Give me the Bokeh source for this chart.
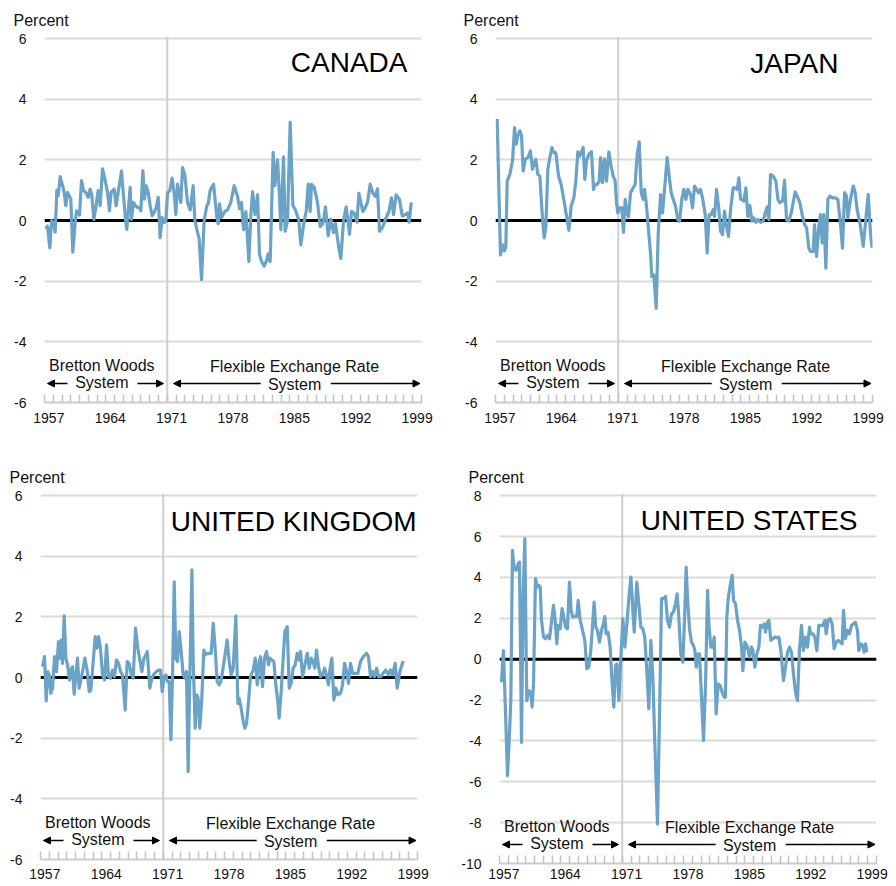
from bokeh.plotting import figure
from bokeh.layouts import column, row
from bokeh.models import Range1d, FixedTicker, Label, Arrow, NormalHead, Span
from bokeh.embed import file_html
from bokeh.resources import INLINE

FONT = "Liberation Sans"
LINE_COLOR = "#6aa3c6"
GRID_COLOR = "#dedad6"
AXIS_COLOR = "#cccccc"

YEAR_START, YEAR_END = 1957, 2000
REGIME_CHANGE = 1971
TICK_YEARS = [1957, 1964, 1971, 1978, 1985, 1992, 1999]

canada_years = [1957.15, 1957.34, 1957.61, 1957.80, 1958.03, 1958.22, 1958.41, 1958.56, 1958.79, 1959.05, 1959.24, 1959.43, 1959.62, 1959.81, 1960.00, 1960.23, 1960.46, 1960.65, 1960.84, 1960.99, 1961.22, 1961.45, 1961.71, 1961.98, 1962.21, 1962.40, 1962.63, 1962.86, 1963.12, 1963.35, 1963.62, 1963.88, 1964.19, 1964.41, 1964.60, 1964.95, 1965.17, 1965.40, 1965.78, 1966.01, 1966.24, 1966.39, 1966.77, 1966.92, 1967.15, 1967.38, 1967.61, 1967.84, 1967.99, 1968.22, 1968.41, 1968.60, 1968.83, 1969.05, 1969.28, 1969.59, 1969.74, 1969.97, 1970.19, 1970.42, 1970.65, 1970.84,
                1971.03, 1971.30, 1971.56, 1971.79, 1971.98, 1972.17, 1972.55, 1972.74, 1973.01, 1973.31, 1973.62, 1973.96, 1974.15, 1974.38, 1974.64, 1974.91, 1975.21, 1975.52, 1975.67, 1975.90, 1976.28, 1976.66, 1976.81, 1976.96, 1977.19, 1977.57, 1977.87, 1978.25, 1978.63, 1979.02, 1979.24, 1979.47, 1979.70, 1979.97, 1980.31, 1980.54, 1980.73, 1981.00, 1981.30, 1981.52, 1981.75, 1982.06, 1982.36, 1982.51, 1982.74, 1983.08, 1983.27, 1983.58, 1983.77, 1983.96, 1984.26, 1984.45, 1984.72, 1985.02, 1985.33, 1985.63, 1986.01, 1986.24, 1986.62, 1986.85, 1987.08, 1987.30, 1987.46, 1987.76, 1988.14, 1988.44, 1988.75, 1989.05, 1989.36, 1989.66, 1989.97, 1990.19, 1990.57, 1990.80, 1991.11, 1991.41, 1991.79, 1992.02, 1992.32, 1992.63, 1992.86, 1993.08, 1993.31, 1993.54, 1993.84, 1994.15, 1994.45, 1994.76, 1994.98, 1995.21, 1995.59, 1995.97, 1996.28, 1996.58, 1996.81, 1997.11, 1997.49, 1997.80, 1998.18, 1998.41, 1998.60, 1998.83]
canada_values = [-0.28, -0.18, -0.90, 0.00, -0.07, -0.38, 1.00, 0.82, 1.45, 1.18, 0.93, 0.49, 0.93, 0.82, 0.71, -1.04, -0.18, 0.32, 0.27, 0.18, 1.32, 0.99, 0.93, 0.77, 1.04, 0.82, 0.04, 0.43, 0.99, 0.49, 1.71, 1.38, 0.93, 0.32, 0.93, 1.04, 0.49, 0.93, 1.63, 0.82, 0.04, -0.29, 1.10, 0.04, 0.60, 0.49, 0.43, 0.43, 0.32, 1.65, 0.71, 1.15, 0.93, 0.49, 0.16, 0.32, 0.43, 0.77, -0.56, 0.10, -0.07, -0.01,
                 0.90, 1.00, 1.40, 0.90, 0.20, 1.20, 0.60, 1.75, 1.50, 0.60, 0.35, 1.15, 0.00, -0.30, -0.60, -1.95, 0.00, 0.50, 0.55, 1.00, 1.20, 0.10, -0.10, 0.55, 0.10, 0.30, 0.35, 0.60, 1.15, 0.80, 0.40, 0.60, -0.30, 0.30, -1.35, 0.20, 0.95, 0.20, 0.85, -1.10, -1.35, -1.50, -1.30, -1.10, -1.35, 2.25, 1.15, 2.00, 1.00, -0.30, 2.10, -0.35, 0.00, 3.25, 0.50, 0.35, 0.00, -0.80, 0.00, 0.30, 1.20, 0.30, 1.20, 1.10, 0.60, -0.20, -0.10, 0.45, -0.50, 0.05, -0.40, -0.10, -0.90, -1.25, 0.00, 0.45, -0.45, 0.30, 0.25, -0.05, 0.90, 0.60, 0.30, 0.40, 0.60, 1.20, 0.90, 0.80, 1.05, -0.35, -0.20, 0.10, 0.30, 0.75, 0.20, 0.85, 0.70, 0.15, 0.20, 0.25, -0.05, 0.60]

japan_years = [1957.19, 1957.57, 1957.80, 1958.03, 1958.18, 1958.33, 1958.63, 1958.94, 1959.17, 1959.36, 1959.55, 1959.78, 1959.97, 1960.16, 1960.38, 1960.69, 1960.99, 1961.22, 1961.37, 1961.60, 1961.83, 1962.06, 1962.32, 1962.55, 1962.74, 1962.97, 1963.20, 1963.43, 1963.65, 1963.88, 1964.19, 1964.49, 1964.79, 1965.10, 1965.37, 1965.63, 1965.94, 1966.16, 1966.39, 1966.62, 1966.77, 1967.00, 1967.19, 1967.38, 1967.65, 1967.95, 1968.18, 1968.37, 1968.60, 1968.83, 1968.98, 1969.21, 1969.43, 1969.66, 1969.93, 1970.19, 1970.42, 1970.65, 1970.80, 1970.95,
               1971.18, 1971.41, 1971.60, 1971.79, 1972.02, 1972.17, 1972.40, 1972.70, 1972.93, 1973.16, 1973.39, 1973.62, 1973.84, 1974.00, 1974.22, 1974.45, 1974.68, 1974.83, 1975.06, 1975.33, 1975.56, 1975.83, 1976.05, 1976.28, 1976.58, 1976.81, 1977.04, 1977.27, 1977.53, 1977.80, 1977.99, 1978.25, 1978.48, 1978.71, 1978.94, 1979.24, 1979.47, 1979.70, 1979.93, 1980.16, 1980.38, 1980.61, 1980.92, 1981.14, 1981.37, 1981.60, 1981.83, 1981.98, 1982.21, 1982.44, 1982.67, 1982.89, 1983.12, 1983.35, 1983.58, 1983.81, 1984.11, 1984.34, 1984.57, 1984.76, 1984.95, 1985.17, 1985.33, 1985.56, 1985.78, 1986.01, 1986.24, 1986.47, 1986.70, 1986.92, 1987.23, 1987.53, 1987.76, 1987.99, 1988.18, 1988.37, 1988.67, 1988.98, 1989.21, 1989.43, 1989.74, 1989.97, 1990.19, 1990.46, 1990.73, 1990.95, 1991.18, 1991.41, 1991.71, 1991.98, 1992.25, 1992.48, 1992.74, 1992.93, 1993.24, 1993.39, 1993.62, 1993.88, 1994.07, 1994.26, 1994.45, 1994.68, 1994.91, 1995.14, 1995.44, 1995.75, 1996.05, 1996.35, 1996.58, 1996.81, 1997.04, 1997.19, 1997.49, 1997.80, 1998.03, 1998.25, 1998.63, 1998.94, 1999.24, 1999.51, 1999.78, 1999.97]
japan_values = [3.35, -1.13, -0.80, -1.00, -0.85, 1.30, 1.52, 1.97, 3.07, 2.52, 2.80, 2.96, 2.80, 1.64, 2.02, 2.08, 2.30, 1.69, 1.86, 2.02, 1.52, 1.47, 0.25, -0.57, -0.24, 1.69, 2.08, 2.41, 2.24, 2.24, 1.47, 1.19, 0.70, 0.14, -0.32, 0.48, 0.75, 1.30, 2.27, 2.13, 2.24, 2.41, 1.36, 1.97, 2.19, 2.27, 1.03, 1.19, 1.19, 1.30, 2.08, 1.25, 2.04, 1.30, 2.27, 1.80, 1.47, 1.30, 0.59, 0.25,
                0.42, 0.42, -0.39, 0.70, 0.25, 0.12, 0.92, 1.08, 1.19, 2.19, 2.60, 0.92, 0.70, 1.03, 0.50, -0.30, -1.07, -1.85, -1.79, -2.90, -0.41, 0.86, 0.25, 1.03, 2.08, 1.47, 0.92, 0.70, 0.48, 0.03, -0.02, 0.70, 1.03, 0.70, 1.03, 0.86, 0.42, 1.14, 1.03, 0.92, 1.03, 0.75, 0.20, -1.07, 0.20, 0.20, 0.36, 0.14, 1.03, 0.48, -0.35, -0.46, 0.31, -0.19, -0.52, 0.36, 1.08, 1.08, 1.03, 1.41, 0.70, 0.70, 0.64, 1.08, 0.14, 0.50, -0.02, 0.09, -0.06, 0.03, -0.06, -0.02, 0.25, 0.45, 0.03, 1.52, 1.47, 1.30, 0.70, 0.59, 0.64, 1.33, 0.03, -0.02, 0.25, 0.59, 0.94, 0.81, 0.59, 0.20, -0.13, -0.24, -0.91, -1.02, -1.02, -0.13, -1.18, -0.19, 0.20, -0.74, 0.20, -1.57, 0.70, 0.81, 0.75, 0.75, 0.70, -0.13, -0.91, 0.92, 0.81, 0.09, 0.70, 1.14, 0.92, 0.36, -0.19, -0.85, 0.03, 0.86, -0.46, -0.91]

uk_years = [1957.23, 1957.46, 1957.65, 1957.84, 1957.99, 1958.18, 1958.37, 1958.60, 1958.83, 1959.05, 1959.21, 1959.36, 1959.51, 1959.70, 1959.89, 1960.12, 1960.31, 1960.50, 1960.65, 1960.84, 1961.03, 1961.22, 1961.41, 1961.64, 1961.87, 1962.06, 1962.32, 1962.55, 1962.74, 1963.01, 1963.24, 1963.43, 1963.62, 1963.84, 1964.07, 1964.30, 1964.53, 1964.76, 1964.98, 1965.21, 1965.44, 1965.67, 1965.90, 1966.13, 1966.35, 1966.66, 1966.89, 1967.11, 1967.34, 1967.57, 1967.84, 1968.10, 1968.33, 1968.56, 1968.79, 1968.94, 1969.17, 1969.47, 1969.70, 1969.93, 1970.23, 1970.46, 1970.69, 1970.88,
            1971.11, 1971.30, 1971.49, 1971.68, 1971.87, 1972.06, 1972.25, 1972.44, 1972.63, 1972.82, 1973.05, 1973.27, 1973.50, 1973.65, 1973.84, 1974.03, 1974.27, 1974.41, 1974.64, 1974.83, 1974.98, 1975.17, 1975.40, 1975.63, 1975.78, 1976.01, 1976.24, 1976.47, 1976.70, 1976.92, 1977.15, 1977.38, 1977.57, 1977.76, 1977.99, 1978.29, 1978.52, 1978.75, 1978.98, 1979.28, 1979.51, 1979.66, 1979.89, 1980.12, 1980.31, 1980.50, 1980.73, 1980.95, 1981.26, 1981.49, 1981.72, 1981.94, 1982.10, 1982.32, 1982.55, 1982.78, 1983.01, 1983.16, 1983.39, 1983.62, 1983.84, 1984.07, 1984.22, 1984.45, 1984.68, 1984.87, 1985.14, 1985.37, 1985.59, 1985.82, 1986.05, 1986.28, 1986.51, 1986.66, 1986.89, 1987.11, 1987.42, 1987.65, 1987.87, 1988.10, 1988.29, 1988.48, 1988.71, 1988.94, 1989.17, 1989.40, 1989.62, 1989.85, 1990.00, 1990.23, 1990.46, 1990.69, 1990.92, 1991.22, 1991.45, 1991.68, 1991.90, 1992.13, 1992.36, 1992.59, 1992.89, 1993.20, 1993.50, 1993.81, 1994.19, 1994.41, 1994.64, 1994.87, 1995.10, 1995.33, 1995.56, 1995.78, 1996.09, 1996.39, 1996.66, 1996.92, 1997.15, 1997.46, 1997.68, 1997.99, 1998.37]
uk_values = [0.36, 0.69, -0.77, 0.20, 0.09, -0.52, -0.35, 0.69, 0.20, 1.19, 0.64, 1.24, 0.47, 2.04, 0.64, 0.36, -0.08, 0.25, 0.36, -0.55, 0.09, 0.64, -0.35, -0.02, 0.31, 0.64, 0.25, -0.46, -0.41, 0.53, 1.35, 0.97, 1.35, 0.97, 0.09, -0.08, 1.08, 0.03, -0.02, 0.25, 0.03, 0.58, 0.47, 0.20, 0.09, -1.07, 0.53, 0.47, 0.14, -0.02, 1.63, 0.97, 0.58, 0.20, 0.64, 0.69, 0.86, -0.35, -0.02, 0.11, 0.20, 0.25, 0.25, -0.46,
             0.03, 0.09, -0.13, -0.13, -2.05, 0.03, 3.16, 0.64, 0.53, 1.52, 0.86, 0.09, -0.02, 0.20, -3.10, -0.02, 3.55, 0.64, -1.67, -0.57, -0.68, -1.67, -0.68, 0.91, 0.75, 0.80, 0.80, 0.80, 1.79, 0.97, -0.13, -0.24, -0.13, 0.20, 0.64, 1.24, 0.53, 0.09, 0.31, 2.04, -0.85, -0.68, -1.01, -1.45, -1.67, -1.51, -0.79, 0.03, 0.25, 0.64, -0.24, 0.53, 0.69, -0.30, 0.64, 0.86, 0.42, 0.64, 0.58, 0.53, -0.24, -0.79, -1.34, -0.46, 0.64, 1.52, 1.68, -0.35, -0.19, 0.31, 0.42, 0.80, 0.58, 0.86, 0.03, 0.36, 0.80, 0.31, 0.64, 0.53, 0.31, 0.91, 0.36, 0.03, 0.09, 0.31, 0.09, -0.24, 0.25, 0.64, -0.74, -0.35, -0.57, -0.52, -0.24, 0.47, 0.20, -0.19, 0.47, 0.14, 0.14, 0.14, 0.53, 0.69, 0.80, 0.69, 0.03, 0.20, 0.03, 0.31, 0.03, 0.03, 0.14, 0.25, 0.09, 0.25, 0.09, 0.47, -0.35, 0.20, 0.55]

us_years = [1957.22, 1957.45, 1957.68, 1957.91, 1958.14, 1958.29, 1958.48, 1958.67, 1958.90, 1959.13, 1959.28, 1959.51, 1959.70, 1959.89, 1960.11, 1960.34, 1960.57, 1960.72, 1960.88, 1961.10, 1961.33, 1961.48, 1961.64, 1961.79, 1962.02, 1962.24, 1962.47, 1962.70, 1962.93, 1963.16, 1963.35, 1963.54, 1963.69, 1963.92, 1964.14, 1964.33, 1964.52, 1964.75, 1964.98, 1965.17, 1965.36, 1965.59, 1965.82, 1965.97, 1966.20, 1966.43, 1966.73, 1966.96, 1967.19, 1967.41, 1967.60, 1967.79, 1967.98, 1968.17, 1968.40, 1968.63, 1968.86, 1969.01, 1969.17, 1969.39, 1969.62, 1969.85, 1970.04, 1970.23, 1970.39, 1970.62, 1970.84,
            1971.07, 1971.30, 1971.53, 1971.76, 1971.99, 1972.21, 1972.37, 1972.66, 1972.89, 1973.12, 1973.35, 1973.57, 1973.80, 1974.03, 1974.26, 1974.49, 1974.72, 1975.02, 1975.17, 1975.33, 1975.48, 1975.71, 1975.94, 1976.16, 1976.39, 1976.62, 1976.84, 1977.07, 1977.26, 1977.45, 1977.68, 1977.91, 1978.14, 1978.29, 1978.44, 1978.67, 1978.90, 1979.13, 1979.28, 1979.43, 1979.66, 1979.81, 1980.04, 1980.27, 1980.50, 1980.73, 1980.88, 1981.10, 1981.33, 1981.49, 1981.71, 1981.94, 1982.17, 1982.40, 1982.62, 1982.77, 1982.93, 1983.08, 1983.31, 1983.54, 1983.69, 1983.92, 1984.15, 1984.38, 1984.61, 1984.76, 1984.99, 1985.21, 1985.36, 1985.52, 1985.74, 1985.90, 1986.12, 1986.35, 1986.58, 1986.77, 1986.96, 1987.19, 1987.34, 1987.57, 1987.72, 1987.95, 1988.17, 1988.40, 1988.63, 1988.86, 1989.09, 1989.39, 1989.62, 1989.85, 1990.08, 1990.30, 1990.53, 1990.76, 1990.99, 1991.21, 1991.44, 1991.67, 1991.90, 1992.13, 1992.36, 1992.51, 1992.74, 1992.97, 1993.19, 1993.42, 1993.65, 1993.88, 1994.11, 1994.26, 1994.49, 1994.71, 1994.94, 1995.17, 1995.40, 1995.63, 1995.86, 1996.08, 1996.24, 1996.46, 1996.69, 1996.92, 1997.15, 1997.37, 1997.60, 1997.83, 1997.98, 1998.21, 1998.44, 1998.59, 1998.75, 1998.90]
us_values = [-1.13, 0.42, -2.52, -5.70, -3.66, -2.03, 5.33, 4.43, 4.35, 4.67, 4.75, -4.07, 3.20, 5.90, -2.03, -1.54, -1.62, -2.35, -1.21, 3.94, 3.53, 3.61, 3.56, 1.90, 1.08, 1.00, 1.16, 1.00, 1.81, 2.63, 1.90, 0.75, 1.65, 1.49, 2.47, 2.06, 1.57, 1.49, 3.77, 2.39, 2.06, 2.09, 2.09, 2.88, 1.90, 1.49, 0.92, -0.47, -0.39, 0.42, 1.57, 2.79, 1.57, 1.41, 0.83, 1.41, 1.73, 2.09, 1.24, 1.32, 0.59, -1.21, -2.35, -0.31, -0.23, -2.03, 0.10,
             1.98, 0.59, 1.73, 3.04, 4.02, 2.39, 1.32, 3.77, 2.71, 1.57, 1.49, 1.08, -0.56, -2.43, 0.92, -0.88, -4.15, -8.07, -4.64, -0.88, 2.96, 2.96, 3.07, 1.90, 1.57, 2.22, 2.30, 2.71, 3.20, 2.06, 0.26, -0.15, 2.39, 4.51, 3.04, 1.49, 0.83, 0.67, 0.42, -0.39, 0.26, 0.26, -1.86, -3.99, -1.21, 3.37, 1.73, 0.59, 0.59, 1.08, -2.68, -1.21, -1.29, -1.62, -1.86, -1.86, 2.06, 2.96, 3.61, 4.10, 2.88, 2.71, 1.90, 1.41, 0.59, -0.56, 0.83, 0.67, 0.42, 0.10, 0.59, 0.42, -0.39, 0.26, 0.59, 1.65, 1.57, 1.73, 1.32, 1.81, 1.90, 0.92, 1.00, 1.08, 1.05, 1.08, 0.42, -1.05, -0.39, 0.34, 0.59, 0.34, -0.72, -1.62, -2.03, 0.42, 1.65, 0.42, 1.08, 0.59, 1.57, 1.24, 1.24, 1.08, 0.42, 1.65, 1.65, 1.65, 1.90, 1.24, 1.93, 1.98, 1.73, 0.51, 0.83, 0.92, 0.83, 0.75, 2.39, 1.00, 1.41, 1.24, 1.65, 1.73, 1.81, 1.41, 0.42, 0.75, 0.67, 0.34, 0.75, 0.34]

PANELS = [
    dict(name="CANADA", years=canada_years, values=canada_values, ymin=-6, ymax=6,
         fh=366, left=44, right=27, top=34, bottom=42, standoff=10,
         name_dx=-14, name_dy=-24, pct_dx=-31),
    dict(name="JAPAN", years=japan_years, values=japan_values, ymin=-6, ymax=6,
         fh=366, left=47, right=23, top=36, bottom=40, standoff=10,
         name_dx=-34, name_dy=-25, pct_dx=-32),
    dict(name="UNITED KINGDOM", years=uk_years, values=uk_values, ymin=-6, ymax=6,
         fh=366, left=40, right=31, top=50, bottom=27, standoff=9,
         name_dx=-1, name_dy=-26, pct_dx=-31),
    dict(name="UNITED STATES", years=us_years, values=us_values, ymin=-10, ymax=8,
         fh=370, left=51, right=19, top=51, bottom=22, standoff=5,
         name_dx=-19, name_dy=-25, pct_dx=-31),
]
FRAME_W = 377


def make_panel(cfg):
    ymin, ymax = cfg["ymin"], cfg["ymax"]
    pad = (ymax - ymin) * 0.006
    p = figure(frame_width=FRAME_W, frame_height=cfg["fh"], output_backend="svg",
               toolbar_location=None,
               x_range=Range1d(YEAR_START, YEAR_END), y_range=Range1d(ymin, ymax + pad),
               min_border_left=cfg["left"], min_border_right=cfg["right"],
               min_border_top=cfg["top"], min_border_bottom=cfg["bottom"])
    p.outline_line_color = None
    p.background_fill_color = "white"
    p.border_fill_color = "white"

    p.title.text = "Percent"
    p.title.align = "left"
    p.title.offset = cfg["pct_dx"]
    p.title.standoff = 15
    p.title.text_font = FONT
    p.title.text_font_size = "16px"
    p.title.text_font_style = "normal"
    p.title.text_color = "#111111"

    p.xgrid.visible = False
    p.ygrid.ticker = FixedTicker(ticks=list(range(ymin + 2, ymax + 1, 2)))
    p.ygrid.grid_line_color = GRID_COLOR
    p.ygrid.grid_line_width = 2

    yticks = list(range(ymin, ymax + 1, 2))
    ya = p.yaxis[0]
    ya.ticker = FixedTicker(ticks=yticks)
    ya.major_label_overrides = {v: str(v) for v in yticks}
    ya.axis_line_color = None
    ya.major_tick_line_color = None
    ya.minor_tick_line_color = None
    ya.major_tick_out = 0
    ya.major_label_standoff = 18
    ya.major_label_text_font = FONT
    ya.major_label_text_font_size = "14px"
    ya.major_label_text_color = "#111111"

    xa = p.xaxis[0]
    xa.ticker = FixedTicker(ticks=[y + 0.5 for y in TICK_YEARS],
                            minor_ticks=list(range(YEAR_START, YEAR_END + 1)))
    xa.major_label_overrides = {y + 0.5: str(y) for y in TICK_YEARS}
    xa.axis_line_color = AXIS_COLOR
    xa.axis_line_width = 2
    xa.major_tick_line_color = None
    xa.major_tick_in = 0
    xa.major_tick_out = 0
    xa.minor_tick_line_color = "#c4c4c4"
    xa.minor_tick_line_width = 1.5
    xa.minor_tick_in = 8
    xa.minor_tick_out = 0
    xa.major_label_standoff = cfg["standoff"]
    xa.major_label_text_font = FONT
    xa.major_label_text_font_size = "14px"
    xa.major_label_text_color = "#111111"

    p.add_layout(Span(location=REGIME_CHANGE, dimension="height", line_color="#cfcfcf",
                      line_width=2, level="underlay"))
    p.add_layout(Span(location=0, dimension="width", line_color="black",
                      line_width=3, level="underlay"))

    p.line(cfg["years"], cfg["values"], line_color=LINE_COLOR, line_width=3.2,
           line_join="round")

    ppu = cfg["fh"] / (ymax + pad - ymin)

    def y_up(px):
        return ymin + px / ppu

    p.add_layout(Label(x=YEAR_END, y=ymax, x_offset=cfg["name_dx"], y_offset=cfg["name_dy"],
                       text=cfg["name"], text_font=FONT, text_font_size="28px",
                       text_baseline="middle", text_align="right", text_color="black"))

    for txt, xc, dy in [("Bretton Woods", 1963.54, 37.5), ("System", 1963.54, 20),
                        ("Flexible Exchange Rate", 1985.52, 36.5), ("System", 1985.52, 18.5)]:
        p.add_layout(Label(x=xc, y=y_up(dy), text=txt, text_font=FONT, text_font_size="16px",
                           text_baseline="middle", text_align="center", text_color="#111111"))

    ay = y_up(19)
    for x0, x1 in [(1959.62, 1957.34), (1967.6, 1970.57), (1981.66, 1971.71), (1989.65, 1999.83)]:
        p.add_layout(Arrow(x_start=x0, y_start=ay, x_end=x1, y_end=ay, line_width=1.3,
                           line_color="black",
                           end=NormalHead(size=7, fill_color="black", line_color="black",
                                          line_width=1)))
    return p


figs = [make_panel(c) for c in PANELS]
layout = column(row(figs[0], figs[1]), row(figs[2], figs[3]))

open("out.html", "w").write(file_html(layout, INLINE))
